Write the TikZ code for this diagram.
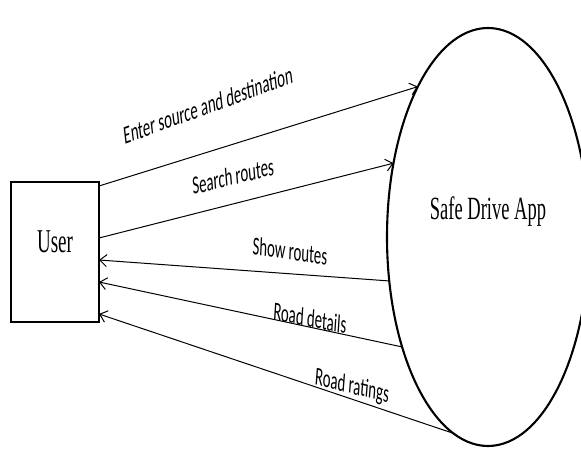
\documentclass[tikz,border=0pt]{standalone}
\usepackage{fontspec}
\usepackage{graphicx}
\setmainfont{Liberation Serif}
\newfontfamily\labelfont{Carlito}
\usetikzlibrary{shapes.geometric,arrows.meta}

% text in this diagram is set tall and narrow
\newcommand{\tallbox}[1]{\scalebox{1}[1.75]{#1}}
% a flow label: turned first, then stretched like the rest of the text
\newcommand{\tilted}[2]{\scalebox{1}[1.75]{\rotatebox{#1}{#2}}}

\begin{document}
\begin{tikzpicture}[x=1pt,y=-1pt,
  entity/.style={draw,line width=1.4pt,minimum width=88pt,minimum height=140pt,
    inner sep=0pt,outer sep=0pt,font=\fontsize{19}{22}\selectfont},
  process/.style={ellipse,draw,line width=2.1pt,minimum width=202pt,minimum height=418pt,
    inner sep=0pt,outer sep=0pt,font=\fontsize{18.5}{22}\selectfont},
  flow/.style={line width=1pt,-{Straight Barb[length=7pt,width=12pt]}},
  flowlabel/.style={anchor=center,inner sep=0pt,font=\labelfont\fontsize{14.8}{17}\selectfont}]
\useasboundingbox (0,0) rectangle (581,449);

% external entity and the process
\node[entity] (user) at (55,252) {\raisebox{0pt}[0pt][0pt]{\tallbox{User}}};
\draw[line width=2.8pt] (user.north west) -- (user.north east);
\draw[line width=2.8pt] (user.south west) -- (user.south east);

\node[process] (app) at (488,237) {\raisebox{18pt}[0pt][0pt]{\tallbox{Safe Drive App}}};

% data flows
\draw[flow] ([yshift=66pt]user.east) -- (app.115.4);
\draw[flow] ([yshift=14pt]user.east) -- (app.142.3);
\draw[flow] (app.204.7) -- ([yshift=-8pt]user.east);
\draw[flow] (app.232.8) -- ([yshift=-30pt]user.east);
\draw[flow] (app.260) -- ([yshift=-62pt]user.east);

% flow labels
\node[flowlabel] (l1) at (208,105) {\tilted{11.8}{Enter source and destination}};
\node[flowlabel] (l2) at (233,176) {\tilted{8.1}{Search routes}};
\node[flowlabel] (l3) at (290,251) {\tilted{-4.5}{Show routes}};
\node[flowlabel] (l4) at (310,318) {\tilted{-6.3}{Road details}};
\node[flowlabel] (l5) at (352,387) {\tilted{-7.9}{Road ratings}};
\end{tikzpicture}
\end{document}
